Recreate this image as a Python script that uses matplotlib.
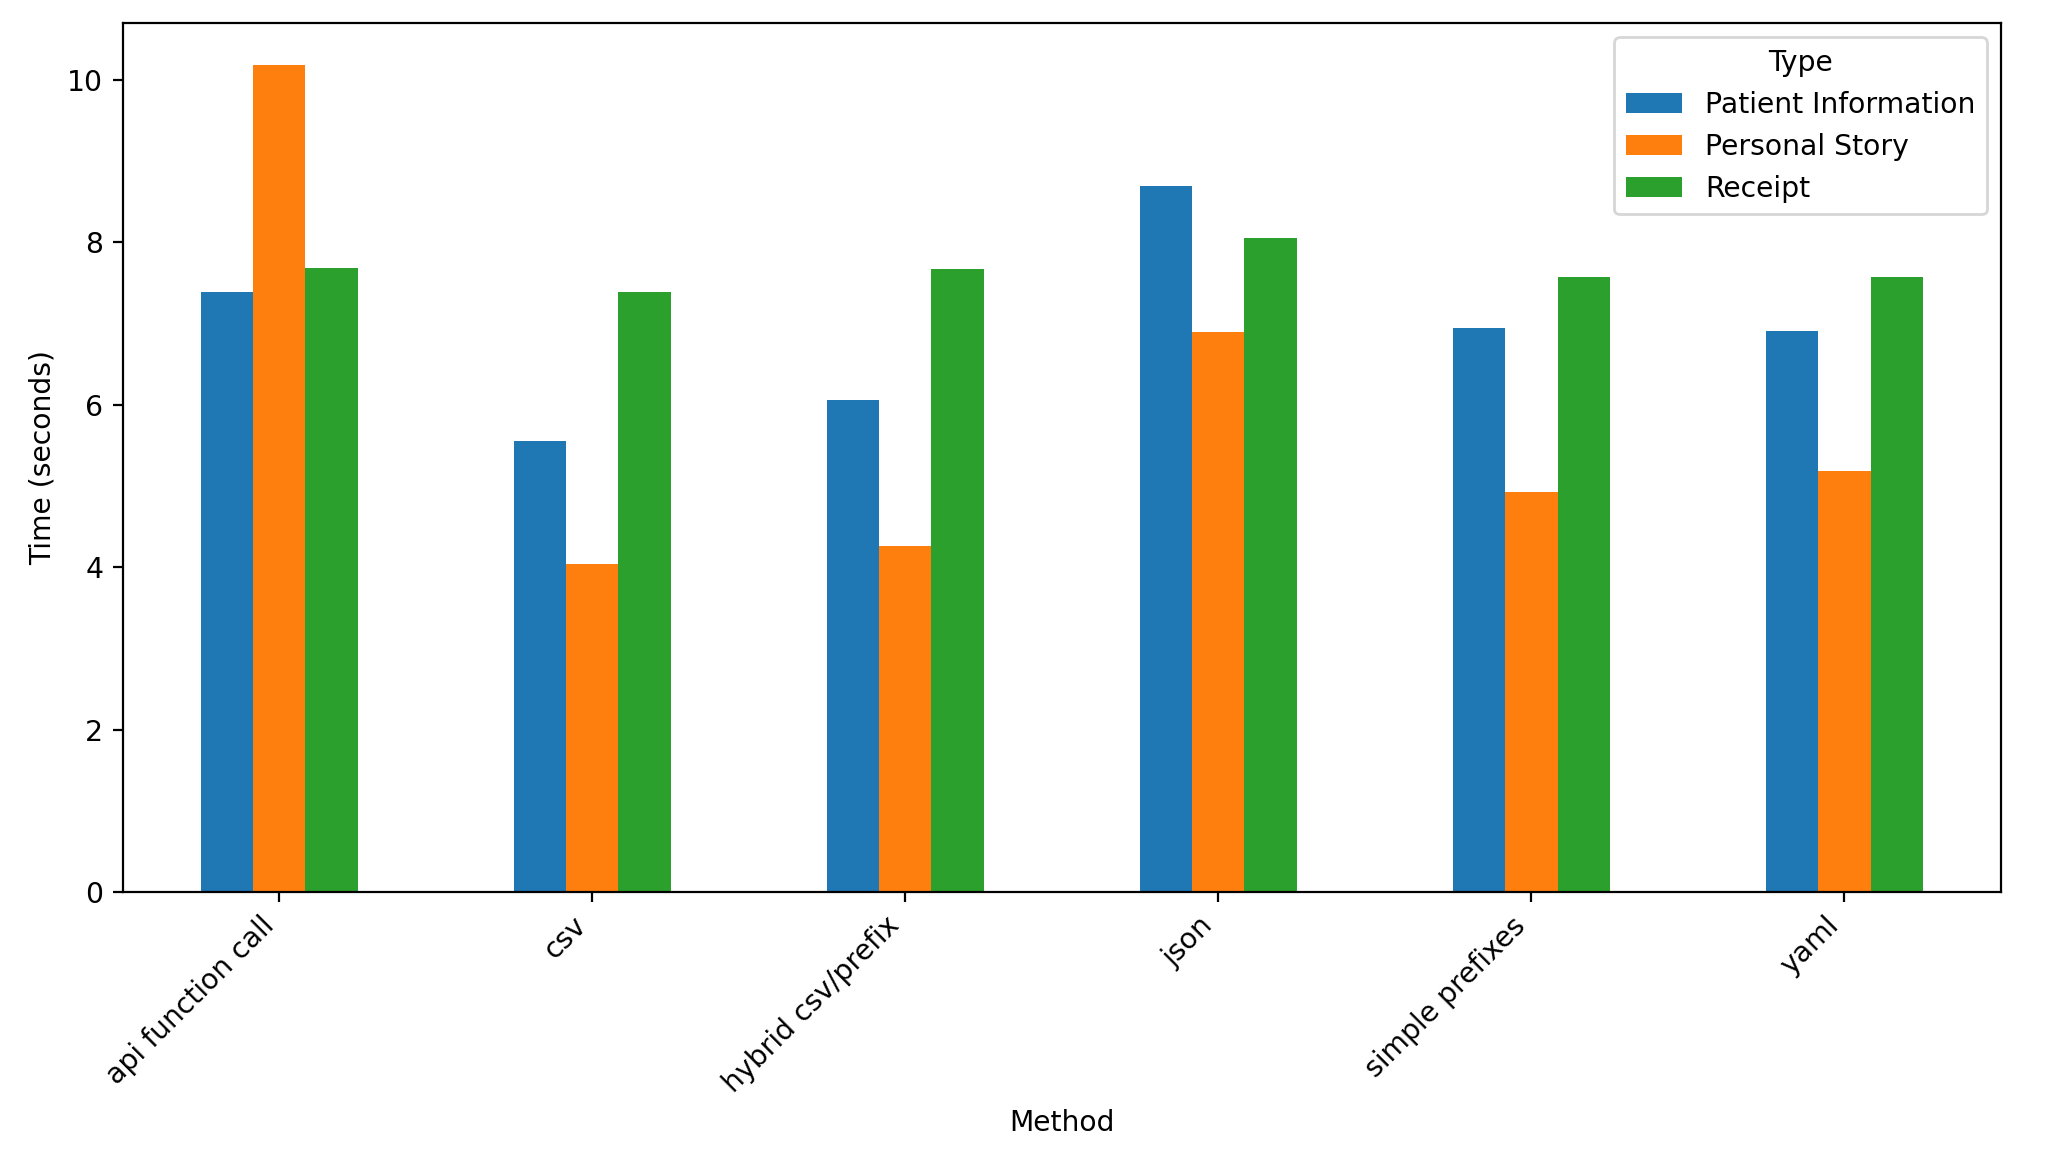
import matplotlib
matplotlib.use("Agg")
import matplotlib.pyplot as plt
import numpy as np

methods = ["api function call", "csv", "hybrid csv/prefix", "json", "simple prefixes", "yaml"]
types = ["Patient Information", "Personal Story", "Receipt"]
patient_info = [7.39, 5.56, 6.06, 8.70, 6.95, 6.91]
personal_story = [10.19, 4.04, 4.26, 6.90, 4.92, 5.19]
receipt = [7.69, 7.39, 7.67, 8.05, 7.57, 7.57]
colors = ["#1f77b4", "#ff7f0e", "#2ca02c"]

series = [patient_info, personal_story, receipt]

plt.rcParams["font.size"] = 10.2

fig = plt.figure(figsize=(10.23, 5.785), dpi=200)
ax = fig.add_axes([0.060, 0.229, 0.918, 0.751])

x = np.arange(len(methods))
w = 0.5 / 3
for i, (vals, name, c) in enumerate(zip(series, types, colors)):
    ax.bar(x + (i - 1) * w, vals, width=w, color=c, label=name)

ax.set_xlim(-0.5, len(methods) - 0.5)
ax.set_xticks(x)
ax.set_xticklabels(methods, rotation=45, ha="right")
ax.set_xlabel("Method")
ax.set_ylabel("Time (seconds)")
ax.legend(title="Type", loc="upper right")

fig.savefig("out.png", dpi=200)
